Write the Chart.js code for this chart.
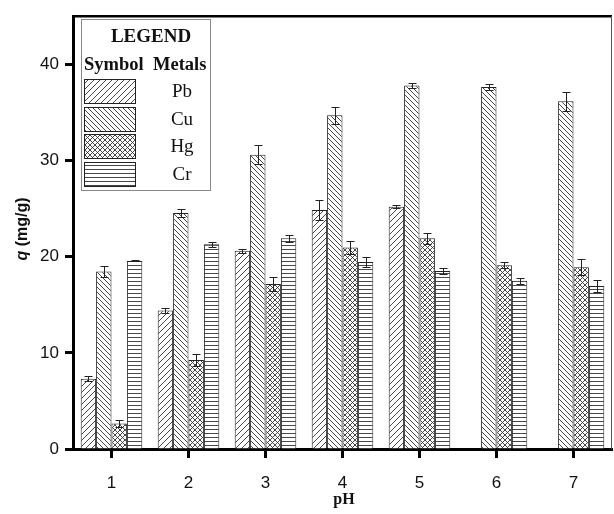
<!DOCTYPE html>
<html>
<head>
<meta charset="utf-8">
<script src="https://cdn.jsdelivr.net/npm/chart.js@4"></script>
<style>
  body { margin: 0; background: #fff; }
  #wrap { width: 614px; height: 514px; }
</style>
</head>
<body>
<div id="wrap"><canvas id="bar-chart"></canvas></div>
<script>
// values (q in mg/g, error = +/- half bar)
const phLabels = ['1', '2', '3', '4', '5', '6', '7'];
const metals = ['Pb', 'Cu', 'Hg', 'Cr'];
const pbValues = [7.3, 14.4, 20.6, 24.85, 25.2, null, null];
const pbErrors = [0.25, 0.3, 0.2, 1.05, 0.15, null, null];
const cuValues = [18.45, 24.55, 30.6, 34.7, 37.8, 37.65, 36.15];
const cuErrors = [0.55, 0.4, 1.0, 0.9, 0.25, 0.35, 1.0];
const hgValues = [2.65, 9.25, 17.15, 20.95, 21.9, 19.1, 18.9];
const hgErrors = [0.35, 0.65, 0.75, 0.7, 0.6, 0.3, 0.85];
const crValues = [19.55, 21.3, 21.9, 19.45, 18.5, 17.5, 16.95];
const crErrors = [0.05, 0.25, 0.35, 0.55, 0.35, 0.3, 0.65];
const yTicks = [0, 10, 20, 30, 40];

// hatch patterns
function makePattern(kind) {
    const s = kind === 'pb' ? 6 : (kind === 'cu' ? 5 : (kind === 'hg' ? 5 : 4));
    const c = document.createElement('canvas');
    c.width = s; c.height = s;
    const g = c.getContext('2d');
    g.fillStyle = '#fff';
    g.fillRect(0, 0, s, s);
    g.strokeStyle = '#333';
    g.lineWidth = 0.9;
    g.beginPath();
    if (kind === 'pb' || kind === 'hg') {
        g.moveTo(0, s); g.lineTo(s, 0);
        g.moveTo(-1, 1); g.lineTo(1, -1);
        g.moveTo(s - 1, s + 1); g.lineTo(s + 1, s - 1);
    }
    if (kind === 'cu' || kind === 'hg') {
        g.moveTo(0, 0); g.lineTo(s, s);
        g.moveTo(-1, s - 1); g.lineTo(1, s + 1);
        g.moveTo(s - 1, -1); g.lineTo(s + 1, 1);
    }
    if (kind === 'cr') {
        g.moveTo(0, 1.5); g.lineTo(s, 1.5);
    }
    g.stroke();
    const ctx = document.createElement('canvas').getContext('2d');
    return ctx.createPattern(c, 'repeat');
}

const patterns = [makePattern('pb'), makePattern('cu'), makePattern('hg'), makePattern('cr')];
const seriesValues = [pbValues, cuValues, hgValues, crValues];
const seriesErrors = [pbErrors, cuErrors, hgErrors, crErrors];

// error bars
const errorBars = {
    id: 'errorBars',
    afterDatasetsDraw(chart) {
        const ctx = chart.ctx;
        const y = chart.scales.y;
        ctx.save();
        ctx.strokeStyle = '#222';
        ctx.lineWidth = 1;
        chart.data.datasets.forEach((ds, i) => {
            const meta = chart.getDatasetMeta(i);
            meta.data.forEach((bar, j) => {
                const v = ds.data[j], e = seriesErrors[i][j];
                if (v == null || e == null) return;
                const top = Math.round(y.getPixelForValue(v + e)) + 0.5;
                const bot = Math.round(y.getPixelForValue(v - e)) + 0.5;
                const x = Math.round(bar.x) + 0.5;
                ctx.beginPath();
                ctx.moveTo(x, top); ctx.lineTo(x, bot);
                ctx.moveTo(x - 4, top); ctx.lineTo(x + 4, top);
                ctx.moveTo(x - 4, bot); ctx.lineTo(x + 4, bot);
                ctx.stroke();
            });
        });
        ctx.restore();
    }
};

// frame, axis titles and the boxed legend
const decorations = {
    id: 'decorations',
    afterDraw(chart) {
        const ctx = chart.ctx;
        const a = chart.chartArea;
        ctx.save();
        // top and right border
        ctx.strokeStyle = '#000';
        ctx.lineWidth = 2.5;
        ctx.beginPath();
        ctx.moveTo(a.left, a.top); ctx.lineTo(a.right, a.top);
        ctx.stroke();
        ctx.lineWidth = 1;
        ctx.strokeStyle = '#555';
        ctx.beginPath();
        ctx.moveTo(a.right - 0.5, a.top); ctx.lineTo(a.right - 0.5, a.bottom);
        ctx.stroke();

        // y title: q (mg/g)
        ctx.fillStyle = '#111';
        ctx.translate(23, 229);
        ctx.rotate(-Math.PI / 2);
        ctx.textBaseline = 'middle';
        ctx.font = 'italic bold 16px "Liberation Sans"';
        const qW = ctx.measureText('q').width;
        ctx.font = 'bold 16px "Liberation Sans"';
        const restW = ctx.measureText(' (mg/g)').width;
        let x0 = -(qW + restW) / 2;
        ctx.font = 'italic bold 16px "Liberation Sans"';
        ctx.textAlign = 'left';
        ctx.fillText('q', x0, 0);
        ctx.font = 'bold 16px "Liberation Sans"';
        ctx.fillText(' (mg/g)', x0 + qW, 0);
        ctx.setTransform(1, 0, 0, 1, 0, 0);

        // x title
        ctx.textAlign = 'center';
        ctx.font = 'bold 16px "Liberation Serif"';
        ctx.fillText('pH', 344, 500);

        // legend box
        ctx.strokeStyle = '#888';
        ctx.lineWidth = 1;
        ctx.strokeRect(81.5, 19.5, 129, 171);
        ctx.fillStyle = '#111';
        ctx.font = 'bold 19px "Liberation Serif"';
        ctx.fillText('LEGEND', 151, 37);
        ctx.textAlign = 'left';
        ctx.font = 'bold 18.5px "Liberation Serif"';
        ctx.fillText('Symbol', 84, 65);
        ctx.fillText('Metals', 153, 65);
        ctx.font = '19px "Liberation Serif"';
        ctx.textAlign = 'center';
        const rows = [79, 107, 134, 162];
        metals.forEach((m, i) => {
            ctx.fillStyle = patterns[i];
            ctx.fillRect(84, rows[i], 51, 24);
            ctx.strokeStyle = '#222';
            ctx.strokeRect(84.5, rows[i] + 0.5, 51, 24);
            ctx.fillStyle = '#111';
            ctx.fillText(m, 182, rows[i] + 13);
        });
        ctx.restore();
    }
};

new Chart(
    document.getElementById('bar-chart'),
    {
        type: 'bar',
        data: {
            labels: phLabels,
            datasets: metals.map((m, i) => ({
                label: m,
                data: seriesValues[i],
                backgroundColor: patterns[i],
                borderColor: '#222',
                borderWidth: 1,
                categoryPercentage: 0.8,
                barPercentage: 1.0
            }))
        },
        options: {
            responsive: true,
            maintainAspectRatio: false,
            animation: false,
            layout: { padding: { top: 13, right: 2, left: 0, bottom: 0 } },
            plugins: {
                legend: { display: false },
                tooltip: { enabled: false }
            },
            scales: {
                x: {
                    grid: {
                        offset: false,
                        drawOnChartArea: false,
                        tickLength: 9,
                        tickWidth: 3,
                        tickColor: '#000'
                    },
                    border: { color: '#000', width: 3 },
                    ticks: {
                        color: '#111',
                        padding: 15,
                        font: { family: 'Liberation Sans', size: 17 }
                    },
                    afterFit(scale) { scale.height = 65; }
                },
                y: {
                    min: 0,
                    max: 45,
                    afterBuildTicks(scale) {
                        scale.ticks = yTicks.map(v => ({ value: v }));
                    },
                    grid: {
                        drawOnChartArea: false,
                        tickLength: 8,
                        tickWidth: 3,
                        tickColor: '#000'
                    },
                    border: { color: '#000', width: 3 },
                    ticks: {
                        color: '#111',
                        padding: 6,
                        font: { family: 'Liberation Sans', size: 17 }
                    },
                    afterFit(scale) { scale.width = 73; }
                }
            }
        },
        plugins: [errorBars, decorations]
    }
);
</script>
</body>
</html>
